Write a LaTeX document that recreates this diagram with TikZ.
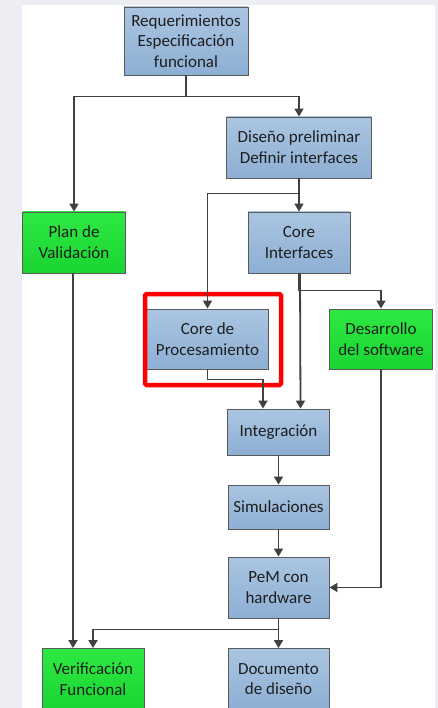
\documentclass[tikz,border=0pt]{standalone}
\usepackage{xcolor}
\usepackage{fontspec}
\setmainfont{Carlito}
\usepackage{tikz}
\usetikzlibrary{positioning,calc,arrows.meta}

\definecolor{boxtop}{HTML}{AAC5E1}
\definecolor{boxbot}{HTML}{8DAFD4}
\definecolor{greentop}{HTML}{2EE842}
\definecolor{greenbot}{HTML}{1AD432}
\definecolor{edgegray}{HTML}{5A5A5A}
\definecolor{linegray}{HTML}{404040}
\definecolor{textgray}{HTML}{1E1E1E}
\definecolor{paper}{HTML}{ECEEF3}

\begin{document}
\begin{tikzpicture}[
    x=1pt, y=-1pt,
    box/.style={rectangle, draw=edgegray, line width=0.9pt, top color=boxtop, bottom color=boxbot,
        text=textgray, align=center, inner sep=0pt,
        font=\fontsize{17}{20.7}\selectfont},
    gbox/.style={box, top color=greentop, bottom color=greenbot},
    line/.style={draw=linegray, line width=1.8pt, -{Triangle[width=9pt,length=8pt]}}
]

% Frame
\useasboundingbox (0,0) rectangle (438,708);
\fill[paper] (0,0) rectangle (438,708);
\fill[white] (22,5) rectangle (435,708);

% Design chain
\node[box, minimum width=124pt, minimum height=68pt] (req) at (186,41) {Requerimientos\\Especificación\\funcional};
\node[box, minimum width=145pt, minimum height=61pt] (prelim) at (299,147.5) {Diseño preliminar\\Definir interfaces};
\node[gbox, minimum width=103pt, minimum height=61pt] (plan) at (74,242.5) {Plan de\\Validación};
\node[box, minimum width=102pt, minimum height=61pt] (coreif) at (299,242.5) {Core\\Interfaces};
\node[box, minimum width=122pt, minimum height=60pt] (proc) at (207.5,339) {Core de\\Procesamiento};
\node[gbox, minimum width=103pt, minimum height=60pt] (soft) at (381,339) {Desarrollo\\del software};

% Integration and test
\node[box, minimum width=102pt, minimum height=46pt] (integ) at (278.5,432) {Integración};
\node[box, minimum width=101pt, minimum height=44pt] (sim) at (278.5,507) {Simulaciones};
\node[box, minimum width=101pt, minimum height=61pt] (pem) at (278.5,587.5) {PeM con\\hardware};
\node[gbox, minimum width=102pt, minimum height=61pt] (verif) at (93,679) {Verificación\\Funcional};
\node[box, minimum width=101pt, minimum height=61pt] (doc) at (278.5,679) {Documento\\de diseño};

% Highlight
\draw[red, line width=4.5pt, rounded corners=1.5pt] (145,294) rectangle (281,385);

% Arrows
\draw[line] (req.south) -- ++(0,21) -| (prelim.north);
\draw[line] (req.south) -- ++(0,21) -| (plan.north);
\draw[line] (prelim.south) -- (coreif.north);
\draw[line] (prelim.south) -- ++(0,15) -| (proc.north);
\draw[line] (coreif.south) -- ++(0,17) -| (soft.north);
\draw[line] ([xshift=1pt]coreif.south) -- ([xshift=22pt]integ.north);
\draw[line] (proc.south) -- ++(0,10) -| ([xshift=-15.5pt]integ.north);
\draw[line] (integ) -- (sim);
\draw[line] (sim) -- (pem);
\draw[line] (soft.south) |- (pem.east);
\draw[line] (pem.south) -- (doc.north);
\draw[line] (pem.south) -- ++(0,11) -| (verif.north);
\draw[line] ([xshift=-1pt]plan.south) -- ([xshift=-20pt]verif.north);

\end{tikzpicture}
\end{document}
